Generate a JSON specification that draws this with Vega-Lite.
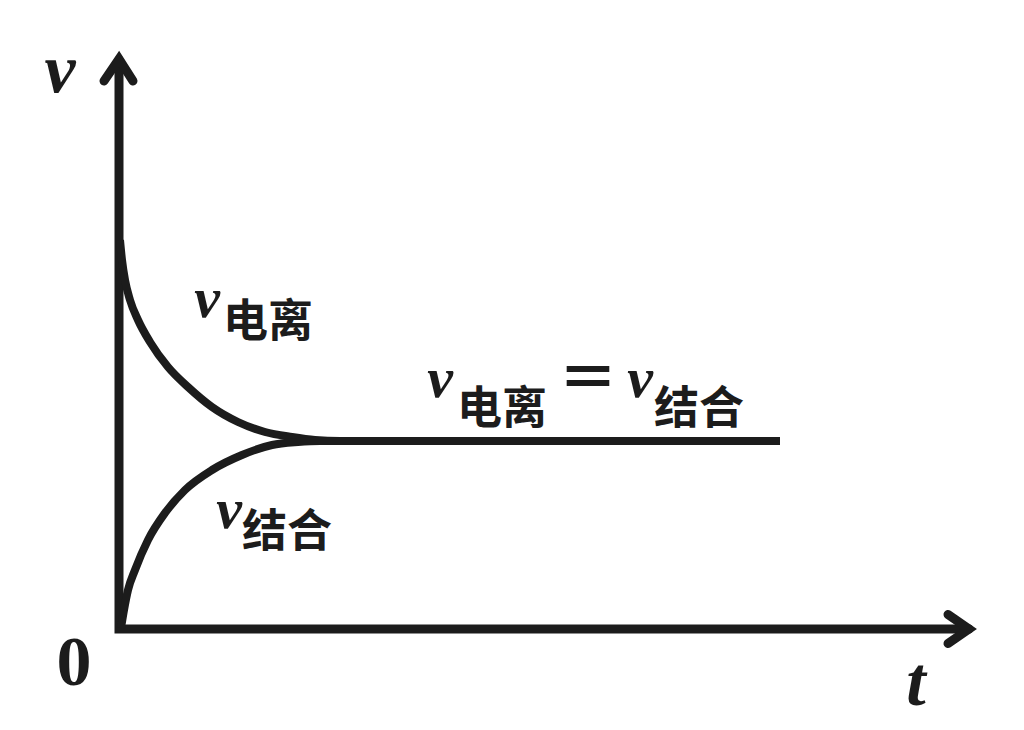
{
  "$schema": "https://vega.github.io/schema/vega-lite/v6.json",
  "description": "Ionization and association rates of a weak electrolyte reaching equilibrium.",
  "autosize": {"type": "fit", "contains": "padding"},
  "width": 1024,
  "height": 730,
  "padding": 0,
  "background": "white",
  "config": {"view": {"stroke": null}},
  "datasets": {
    "curves": [
      {"curve": "ionization", "t": 0.1, "v": 38.9},
      {"curve": "ionization", "t": 0.3, "v": 36.9},
      {"curve": "ionization", "t": 0.6, "v": 34.9},
      {"curve": "ionization", "t": 1.1, "v": 32.9},
      {"curve": "ionization", "t": 1.9, "v": 30.9},
      {"curve": "ionization", "t": 3.1, "v": 28.7},
      {"curve": "ionization", "t": 4.9, "v": 26.2},
      {"curve": "ionization", "t": 6.9, "v": 24.2},
      {"curve": "ionization", "t": 9.3, "v": 22.2},
      {"curve": "ionization", "t": 11.9, "v": 20.7},
      {"curve": "ionization", "t": 14.6, "v": 19.7},
      {"curve": "ionization", "t": 17.3, "v": 19.2},
      {"curve": "ionization", "t": 19.6, "v": 18.9},
      {"curve": "ionization", "t": 22.1, "v": 18.8},
      {"curve": "ionization", "t": 66.1, "v": 18.8},
      {"curve": "association", "t": 0.2, "v": 0.1},
      {"curve": "association", "t": 0.5, "v": 1.9},
      {"curve": "association", "t": 0.9, "v": 3.9},
      {"curve": "association", "t": 1.6, "v": 5.9},
      {"curve": "association", "t": 2.9, "v": 8.9},
      {"curve": "association", "t": 4.6, "v": 11.6},
      {"curve": "association", "t": 6.6, "v": 13.9},
      {"curve": "association", "t": 9.3, "v": 15.9},
      {"curve": "association", "t": 12.3, "v": 17.4},
      {"curve": "association", "t": 15.3, "v": 18.4},
      {"curve": "association", "t": 17.9, "v": 18.7},
      {"curve": "association", "t": 20.1, "v": 18.8},
      {"curve": "association", "t": 22.1, "v": 18.8}
    ],
    "axes": [
      {"part": "frame", "o": 0, "t": 0, "v": 56.9},
      {"part": "frame", "o": 1, "t": 0, "v": 0},
      {"part": "frame", "o": 2, "t": 85.0, "v": 0},
      {"part": "v-arrow", "o": 0, "t": -1.5, "v": 54.8},
      {"part": "v-arrow", "o": 1, "t": 0, "v": 57.0},
      {"part": "v-arrow", "o": 2, "t": 1.4, "v": 54.8},
      {"part": "t-arrow", "o": 0, "t": 82.9, "v": 1.45},
      {"part": "t-arrow", "o": 1, "t": 85.0, "v": 0},
      {"part": "t-arrow", "o": 2, "t": 82.9, "v": -1.45}
    ],
    "axisLetters": [
      {"label": "v", "t": -5.9, "v": 53.7},
      {"label": "t", "t": 79.7, "v": -7.6}
    ],
    "origin": [
      {"label": "0", "t": -4.5, "v": -5.6}
    ],
    "rateSymbols": [
      {"label": "v", "t": 8.8, "v": 31.2},
      {"label": "v", "t": 32.1, "v": 23.2},
      {"label": "v", "t": 52.1, "v": 23.2},
      {"label": "v", "t": 11.0, "v": 10.1}
    ],
    "subscripts": [
      {"label": "电离", "t": 10.4, "v": 29.2},
      {"label": "电离", "t": 33.8, "v": 20.5},
      {"label": "结合", "t": 53.5, "v": 20.5},
      {"label": "结合", "t": 12.3, "v": 8.2}
    ],
    "signs": [
      {"label": "＝", "t": 46.9, "v": 24.7}
    ]
  },
  "encoding": {
    "x": {"field": "t", "type": "quantitative", "axis": null,
          "scale": {"domain": [-11.9, 90.5], "nice": false, "zero": false}},
    "y": {"field": "v", "type": "quantitative", "axis": null,
          "scale": {"domain": [-10.1, 62.9], "nice": false, "zero": false}}
  },
  "layer": [
    {
      "data": {"name": "axes"},
      "mark": {"type": "line", "color": "#1c1c1c", "strokeWidth": 9,
               "strokeCap": "round", "strokeJoin": "miter"},
      "encoding": {
        "detail": {"field": "part"},
        "order": {"field": "o"}
      }
    },
    {
      "data": {"name": "curves"},
      "mark": {"type": "line", "color": "#1c1c1c", "strokeWidth": 8,
               "interpolate": "monotone", "strokeCap": "butt"},
      "encoding": {"detail": {"field": "curve"}}
    },
    {
      "data": {"name": "axisLetters"},
      "mark": {"type": "text", "font": "Liberation Serif", "fontSize": 70,
               "fontStyle": "italic", "fontWeight": "bold", "color": "#1c1c1c",
               "align": "center", "baseline": "alphabetic"},
      "encoding": {"text": {"field": "label"}}
    },
    {
      "data": {"name": "origin"},
      "mark": {"type": "text", "font": "Liberation Serif", "fontSize": 70,
               "fontWeight": "bold", "color": "#1c1c1c",
               "align": "center", "baseline": "alphabetic"},
      "encoding": {"text": {"field": "label"}}
    },
    {
      "data": {"name": "rateSymbols"},
      "mark": {"type": "text", "font": "Liberation Serif", "fontSize": 58,
               "fontStyle": "italic", "fontWeight": "bold", "color": "#1c1c1c",
               "align": "center", "baseline": "alphabetic"},
      "encoding": {"text": {"field": "label"}}
    },
    {
      "data": {"name": "subscripts"},
      "mark": {"type": "text", "font": "Noto Sans CJK SC", "fontSize": 45,
               "fontWeight": "bold", "color": "#1c1c1c",
               "align": "left", "baseline": "alphabetic"},
      "encoding": {"text": {"field": "label"}}
    },
    {
      "data": {"name": "signs"},
      "mark": {"type": "text", "font": "Noto Sans CJK SC", "fontSize": 60,
               "fontWeight": "bold", "color": "#1c1c1c",
               "align": "center", "baseline": "middle"},
      "encoding": {"text": {"field": "label"}}
    }
  ]
}
